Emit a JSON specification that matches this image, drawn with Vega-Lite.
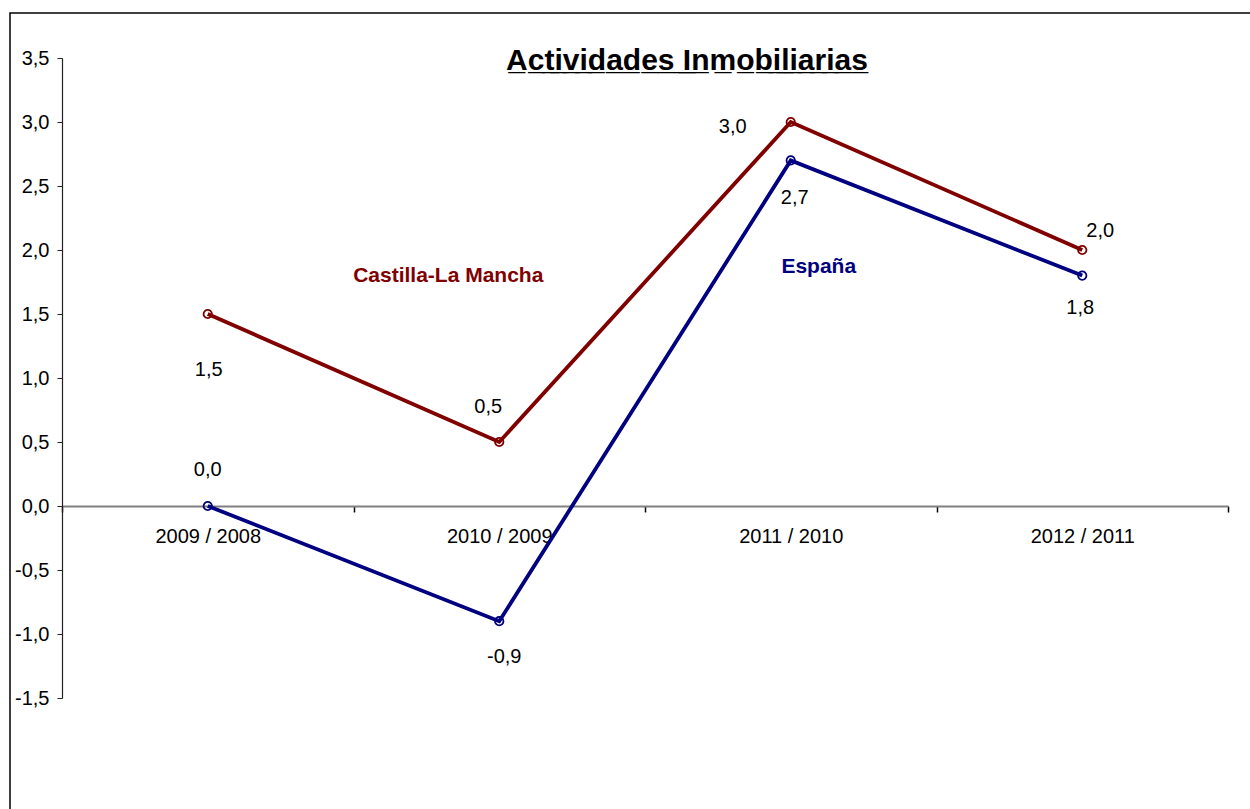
{
  "$schema": "https://vega.github.io/schema/vega-lite/v6.json",
  "width": 1300,
  "height": 850,
  "autosize": {"type": "none"},
  "padding": {"left": 10, "top": 13, "right": 0, "bottom": 0},
  "background": "#ffffff",
  "config": {
    "view": {"stroke": "#000000", "strokeWidth": 1.5},
    "font": "Liberation Sans",
    "locale": {"number": {"decimal": ",", "thousands": ".", "grouping": [3], "currency": ["", " €"], "minus": "-"}}
  },
  "title": {
    "text": "A\u0332c\u0332t\u0332i\u0332v\u0332i\u0332d\u0332a\u0332d\u0332e\u0332s\u0332 \u0332I\u0332n\u0332m\u0332o\u0332b\u0332i\u0332l\u0332i\u0332a\u0332r\u0332i\u0332a\u0332s\u0332",
    "font": "Liberation Sans",
    "fontSize": 30,
    "fontWeight": "bold",
    "color": "#000000",
    "anchor": "middle",
    "frame": "group",
    "dx": 27,
    "offset": -63
  },
  "datasets": {
    "main": [
      {"serie": "Castilla-La Mancha", "periodo": "2009 / 2008", "valor": 1.5},
      {"serie": "Castilla-La Mancha", "periodo": "2010 / 2009", "valor": 0.5},
      {"serie": "Castilla-La Mancha", "periodo": "2011 / 2010", "valor": 3.0},
      {"serie": "Castilla-La Mancha", "periodo": "2012 / 2011", "valor": 2.0},
      {"serie": "España", "periodo": "2009 / 2008", "valor": 0.0},
      {"serie": "España", "periodo": "2010 / 2009", "valor": -0.9},
      {"serie": "España", "periodo": "2011 / 2010", "valor": 2.7},
      {"serie": "España", "periodo": "2012 / 2011", "valor": 1.8}
    ],
    "nombres": [
      {"serie": "Castilla-La Mancha", "periodo": "2010 / 2009", "valor": 1.8},
      {"serie": "España", "periodo": "2011 / 2010", "valor": 1.87}
    ]
  },
  "data": {"name": "main"},
  "encoding": {
    "x": {
      "field": "periodo",
      "type": "nominal",
      "sort": ["2009 / 2008", "2010 / 2009", "2011 / 2010", "2012 / 2011"],
      "scale": {"type": "band", "range": [52, 1218], "paddingInner": 0, "paddingOuter": 0},
      "axis": {
        "title": null,
        "orient": "bottom",
        "offset": -357,
        "tickBand": "extent",
        "domainColor": "#808080",
        "domainWidth": 2,
        "tickColor": "#000000",
        "tickSize": 6,
        "tickWidth": 1.5,
        "labelAngle": 0,
        "labelFont": "Liberation Sans",
        "labelFontSize": 20,
        "labelColor": "#000000",
        "labelPadding": 14
      }
    },
    "y": {
      "field": "valor",
      "type": "quantitative",
      "scale": {"domain": [-1.5, 3.5], "range": [685, 45], "nice": false, "zero": false},
      "axis": {
        "title": null,
        "offset": -52,
        "grid": false,
        "values": [-1.5, -1, -0.5, 0, 0.5, 1, 1.5, 2, 2.5, 3, 3.5],
        "format": ".1f",
        "domainColor": "#222222",
        "domainWidth": 1.2,
        "tickColor": "#222222",
        "tickSize": 5,
        "labelFont": "Liberation Sans",
        "labelFontSize": 20,
        "labelColor": "#000000",
        "labelPadding": 8
      }
    },
    "color": {
      "field": "serie",
      "type": "nominal",
      "scale": {"domain": ["Castilla-La Mancha", "España"], "range": ["#800000", "#000080"]},
      "legend": null
    }
  },
  "layer": [
    {"mark": {"type": "line", "strokeWidth": 3.8}},
    {"mark": {"type": "point", "filled": false, "size": 70, "strokeWidth": 1.8, "opacity": 1}},
    {
      "transform": [{"filter": "datum.serie == 'Castilla-La Mancha' && datum.periodo == '2009 / 2008'"}],
      "mark": {"type": "text", "fontSize": 20, "dx": 1, "dy": 56},
      "encoding": {"text": {"field": "valor", "type": "quantitative", "format": ".1f"}, "color": {"value": "#000000"}}
    },
    {
      "transform": [{"filter": "datum.serie == 'Castilla-La Mancha' && datum.periodo == '2010 / 2009'"}],
      "mark": {"type": "text", "fontSize": 20, "dx": -11, "dy": -35},
      "encoding": {"text": {"field": "valor", "type": "quantitative", "format": ".1f"}, "color": {"value": "#000000"}}
    },
    {
      "transform": [{"filter": "datum.serie == 'Castilla-La Mancha' && datum.periodo == '2011 / 2010'"}],
      "mark": {"type": "text", "fontSize": 20, "dx": -58, "dy": 5},
      "encoding": {"text": {"field": "valor", "type": "quantitative", "format": ".1f"}, "color": {"value": "#000000"}}
    },
    {
      "transform": [{"filter": "datum.serie == 'Castilla-La Mancha' && datum.periodo == '2012 / 2011'"}],
      "mark": {"type": "text", "fontSize": 20, "dx": 18, "dy": -19},
      "encoding": {"text": {"field": "valor", "type": "quantitative", "format": ".1f"}, "color": {"value": "#000000"}}
    },
    {
      "transform": [{"filter": "datum.serie == 'España' && datum.periodo == '2009 / 2008'"}],
      "mark": {"type": "text", "fontSize": 20, "dx": 0, "dy": -36},
      "encoding": {"text": {"field": "valor", "type": "quantitative", "format": ".1f"}, "color": {"value": "#000000"}}
    },
    {
      "transform": [{"filter": "datum.serie == 'España' && datum.periodo == '2010 / 2009'"}],
      "mark": {"type": "text", "fontSize": 20, "dx": 5, "dy": 36},
      "encoding": {"text": {"field": "valor", "type": "quantitative", "format": ".1f"}, "color": {"value": "#000000"}}
    },
    {
      "transform": [{"filter": "datum.serie == 'España' && datum.periodo == '2011 / 2010'"}],
      "mark": {"type": "text", "fontSize": 20, "dx": 4, "dy": 38},
      "encoding": {"text": {"field": "valor", "type": "quantitative", "format": ".1f"}, "color": {"value": "#000000"}}
    },
    {
      "transform": [{"filter": "datum.serie == 'España' && datum.periodo == '2012 / 2011'"}],
      "mark": {"type": "text", "fontSize": 20, "dx": -2, "dy": 32},
      "encoding": {"text": {"field": "valor", "type": "quantitative", "format": ".1f"}, "color": {"value": "#000000"}}
    },
    {
      "data": {"name": "nombres"},
      "transform": [{"filter": "datum.serie == 'Castilla-La Mancha'"}],
      "mark": {"type": "text", "fontSize": 21, "fontWeight": "bold", "dx": -51},
      "encoding": {"text": {"field": "serie"}}
    },
    {
      "data": {"name": "nombres"},
      "transform": [{"filter": "datum.serie == 'España'"}],
      "mark": {"type": "text", "fontSize": 21, "fontWeight": "bold", "dx": 28},
      "encoding": {"text": {"field": "serie"}}
    }
  ]
}
